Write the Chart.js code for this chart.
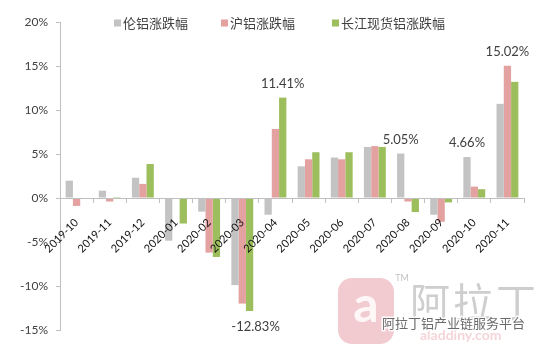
<!DOCTYPE html>
<html>
<head>
<meta charset="utf-8">
<script src="https://cdn.jsdelivr.net/npm/chart.js@4/dist/chart.umd.min.js"></script>
<style>
html,body{margin:0;padding:0;background:#fff;}
#wrap{position:relative;width:540px;height:346px;}
</style>
</head>
<body>
<div id="wrap"><canvas id="c" width="540" height="346"></canvas></div>
<script>
const categories = ['2019-10','2019-11','2019-12','2020-01','2020-02','2020-03','2020-04','2020-05','2020-06','2020-07','2020-08','2020-09','2020-10','2020-11'];
const seriesNames = ['伦铝涨跌幅','沪铝涨跌幅','长江现货铝涨跌幅'];
const lmeValues = [1.97, 0.83, 2.3, -4.85, -1.55, -9.9, -1.9, 3.6, 4.6, 5.8, 5.05, -1.9, 4.66, 10.7];
const shfeValues = [-0.9, -0.4, 1.6, 0.0, -6.2, -12.0, 7.85, 4.4, 4.4, 5.9, -0.4, -2.7, 1.3, 15.02];
const spotValues = [-0.1, 0.1, 3.86, -2.9, -6.7, -12.83, 11.41, 5.2, 5.2, 5.8, -1.6, -0.5, 1.0, 13.2];
const yTicks = [-15, -10, -5, 0, 5, 10, 15, 20];
// annotated values: [seriesIndex, categoryIndex, text]
const annotations = [[2, 6, '11.41%'], [2, 5, '-12.83%'], [0, 10, '5.05%'], [0, 12, '4.66%'], [1, 13, '15.02%']];
const watermarkBig = '阿拉丁';
const watermarkSmall = '阿拉丁铝产业链服务平台';

const colors = ['#C3C3C3', '#E3A1A0', '#9DBE5C'];
const NUM_FONT = 'Lato, "Noto Sans", sans-serif';
const CJK_FONT = '"Noto Sans CJK SC", "Noto Sans", sans-serif';

const labelPlugin = {
  id: 'valueLabels',
  afterDatasetsDraw(chart) {
    const ctx = chart.ctx;
    ctx.save();
    ctx.font = '13px ' + NUM_FONT;
    ctx.fillStyle = '#404040';
    ctx.textAlign = 'center';
    ctx.textBaseline = 'middle';
    annotations.forEach(([ds, i, t]) => {
      const el = chart.getDatasetMeta(ds).data[i];
      const v = chart.data.datasets[ds].data[i];
      if (v >= 0) ctx.fillText(t, el.x, el.y - 14);
      else ctx.fillText(t, el.x + 6, el.y + 16);
    });
    ctx.restore();
  }
};

const legendPlugin = {
  id: 'topLegend',
  afterDraw(chart) {
    const ctx = chart.ctx;
    ctx.save();
    ctx.font = '13px ' + CJK_FONT;
    ctx.textBaseline = 'middle';
    ctx.textAlign = 'left';
    const xs = [114, 221, 332];
    const y = 23;
    chart.data.datasets.forEach((d, k) => {
      ctx.fillStyle = d.backgroundColor;
      ctx.fillRect(xs[k], y - 3.5, 7, 7);
      ctx.fillStyle = '#404040';
      ctx.fillText(d.label, xs[k] + 9, y);
    });
    ctx.restore();
  }
};

const watermarkPlugin = {
  id: 'watermark',
  afterDraw(chart) {
    const ctx = chart.ctx;
    ctx.save();
    ctx.fillStyle = 'rgba(232,160,170,0.55)';
    ctx.beginPath();
    ctx.roundRect(338, 278, 56, 66, 14);
    ctx.fill();
    ctx.fillStyle = 'rgba(255,255,255,0.85)';
    ctx.font = 'bold 50px ' + NUM_FONT;
    ctx.textAlign = 'center';
    ctx.textBaseline = 'middle';
    ctx.fillText('a', 366, 306);
    ctx.fillStyle = 'rgba(150,150,150,0.6)';
    ctx.font = '9px ' + NUM_FONT;
    ctx.fillText('TM', 402, 278);
    ctx.fillStyle = 'rgba(165,165,165,0.55)';
    ctx.font = '40px ' + CJK_FONT;
    ctx.textAlign = 'left';
    ctx.letterSpacing = '3px';
    ctx.fillText(watermarkBig, 410, 302);
    ctx.letterSpacing = '0px';
    ctx.font = 'bold 14px ' + NUM_FONT;
    ctx.fillStyle = 'rgba(232,160,170,0.45)';
    ctx.fillText('aladdiny.com', 420, 335);
    ctx.font = '13px ' + CJK_FONT;
    ctx.lineWidth = 3;
    ctx.strokeStyle = 'rgba(255,255,255,0.9)';
    ctx.strokeText(watermarkSmall, 382, 323);
    ctx.fillStyle = '#6a6a6a';
    ctx.fillText(watermarkSmall, 382, 323);
    ctx.restore();
  }
};

const datasets = [lmeValues, shfeValues, spotValues].map((vals, k) => ({
  label: seriesNames[k],
  data: vals,
  backgroundColor: colors[k],
  borderWidth: 0,
  categoryPercentage: 0.66,
  barPercentage: 1.0
}));

new Chart(document.getElementById('c'), {
  type: 'bar',
  data: { labels: categories, datasets },
  options: {
    responsive: false,
    animation: false,
    layout: { padding: { left: 0, right: 16, top: 22, bottom: 16 } },
    plugins: { legend: { display: false }, tooltip: { enabled: false } },
    scales: {
      x: {
        position: { y: 0 },
        grid: { display: true, drawOnChartArea: false, drawTicks: true, tickLength: 4, color: '#BFBFBF', offset: true, z: 1 },
        border: { display: true, color: '#BFBFBF', width: 1, z: 1 },
        ticks: {
          z: 1,
          minRotation: 45, maxRotation: 45, autoSkip: false, padding: 14,
          color: '#111',
          font: { family: NUM_FONT, size: 11 }
        }
      },
      y: {
        min: -15, max: 20,
        afterFit(scale) { scale.width = 60; },
        afterBuildTicks(scale) { scale.ticks = yTicks.map(v => ({ value: v })); },
        grid: { display: true, drawOnChartArea: false, drawTicks: true, tickLength: 4, color: '#BFBFBF' },
        border: { display: true, color: '#BFBFBF', width: 1 },
        ticks: {
          padding: 8,
          color: '#404040',
          font: { family: NUM_FONT, size: 12 },
          callback: v => v + '%'
        }
      }
    }
  },
  plugins: [labelPlugin, legendPlugin, watermarkPlugin]
});
</script>
</body>
</html>
